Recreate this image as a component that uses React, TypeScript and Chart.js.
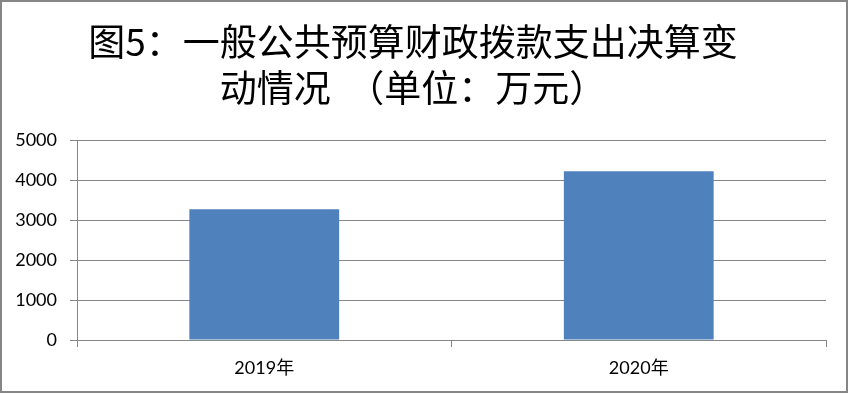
import React, { useEffect, useRef } from "react";
import { Chart, registerables } from "chart.js";

Chart.register(...registerables);

const titleLines = ["图5：一般公共预算财政拨款支出决算变", "动情况  （单位：万元）"];
const categories = ["2019年", "2020年"];
const values = [3270, 4220];
const yTicks = [0, 1000, 2000, 3000, 4000, 5000];

const GRAY = "#868686";

const borderPlugin = {
  id: "outerBorder",
  afterDraw(chart: any) {
    const ctx = chart.ctx;
    ctx.save();
    ctx.strokeStyle = GRAY;
    ctx.lineWidth = 2;
    ctx.strokeRect(1, 1, 846, 391);
    ctx.restore();
  },
};

export default function App() {
  const ref = useRef<HTMLCanvasElement>(null);
  useEffect(() => {
    if (!ref.current) return;
    const chart = new Chart(ref.current, {
      type: "bar",
      data: {
        labels: categories,
        datasets: [
          {
            data: values,
            backgroundColor: "#4F81BD",
            borderWidth: 0,
            categoryPercentage: 1,
            barPercentage: 0.4,
          },
        ],
      },
      options: {
        responsive: false,
        animation: false,
        devicePixelRatio: 1,
        layout: { padding: { left: 0, right: 23, top: 0, bottom: 0 } },
        plugins: {
          legend: { display: false },
          tooltip: { enabled: false },
          title: {
            display: true,
            text: titleLines,
            color: "#000",
            font: { family: "'Noto Sans CJK SC', sans-serif", size: 37, weight: "normal", lineHeight: "46px" } as any,
            padding: { top: 19, bottom: 29 },
          },
        },
        scales: {
          x: {
            grid: { drawOnChartArea: false, drawTicks: true, tickLength: 7, color: GRAY, offset: true },
            border: { display: true, color: GRAY, width: 1 },
            ticks: {
              color: "#000",
              padding: 10,
              font: { family: "Lato, 'Noto Sans CJK SC', sans-serif", size: 18 },
              maxRotation: 0,
            },
            afterFit(scale: any) {
              scale.height = 54;
            },
          },
          y: {
            min: 0,
            max: 5000,
            afterBuildTicks(scale: any) {
              scale.ticks = yTicks.map((v) => ({ value: v }));
            },
            grid: { color: GRAY, tickLength: 7, drawTicks: true },
            border: { display: true, color: GRAY, width: 1 },
            ticks: {
              color: "#000",
              padding: 13,
              font: { family: "Lato, sans-serif", size: 18 },
              callback: (v: any) => String(v),
            },
            afterFit(scale: any) {
              scale.width = 77;
            },
          },
        },
      },
      plugins: [borderPlugin],
    });
    return () => chart.destroy();
  }, []);
  return (
    <div style={{ position: "fixed", left: 0, top: 0, width: 849, height: 394, background: "#fff" }}>
      <canvas ref={ref} width={849} height={394} style={{ display: "block" }} />
    </div>
  );
}
